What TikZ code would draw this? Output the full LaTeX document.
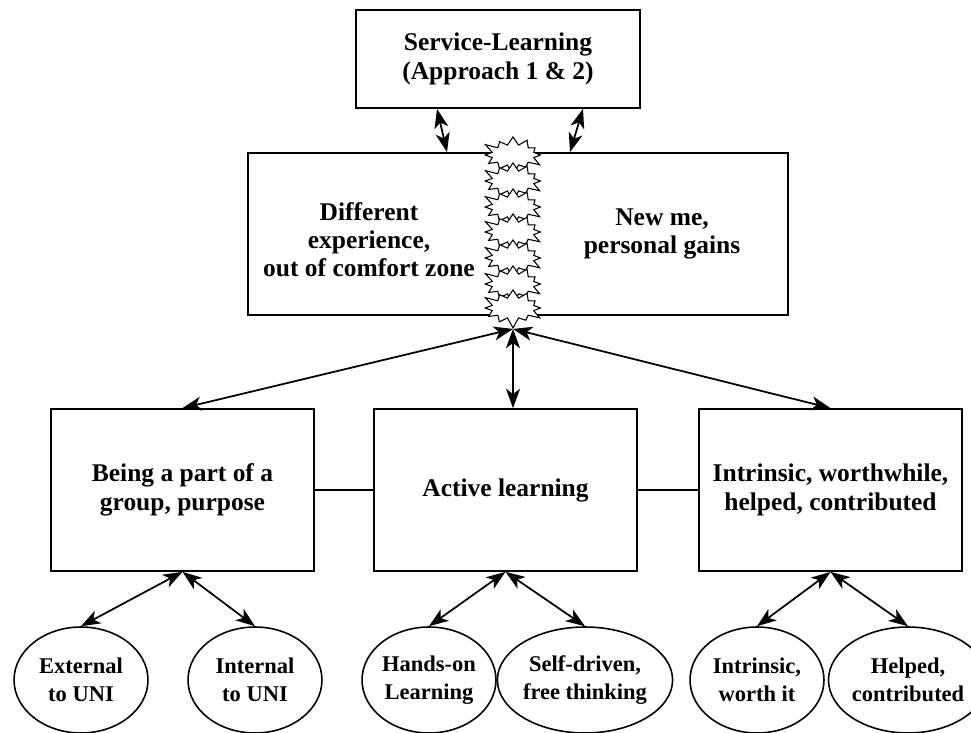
\documentclass[tikz,border=0pt]{standalone}
\usepackage{fontspec}
\setmainfont{Liberation Serif}
\usetikzlibrary{arrows.meta,shapes.geometric,shapes.symbols}

\begin{document}
\begin{tikzpicture}[x=0.02cm,y=-0.02cm]
\tikzstyle{block} = [rectangle, draw, line width=1pt, align=center,
inner sep=0pt, font=\fontsize{14.5}{16.5}\selectfont\bfseries]
\tikzstyle{topblock} = [block, minimum width=5.68cm, minimum height=1.96cm]
\tikzstyle{bigblock} = [block, minimum width=10.8cm, minimum height=3.24cm]
\tikzstyle{lowblock} = [block, minimum width=5.26cm, minimum height=3.24cm]
\tikzstyle{label} = [align=center, font=\fontsize{14.5}{16}\selectfont\bfseries]
\tikzstyle{oval} = [ellipse, draw, line width=0.9pt, minimum width=2.68cm,
minimum height=2.12cm, inner sep=0pt, align=center,
font=\fontsize{12.8}{15.8}\selectfont\bfseries]
\tikzstyle{burst} = [starburst, draw, fill=white, line width=0.6pt,
minimum width=1.3cm, minimum height=0.85cm, inner sep=0pt,
starburst points=12, starburst point height=0.22cm]
\tikzstyle{line} = [draw, line width=1pt, <->,
>={Stealth[length=11pt,width=8pt,inset=3pt]}]

\useasboundingbox (0,0) rectangle (971,733);

% top
\node [topblock] (service) at (498,59) {Service-Learning\\(Approach 1 \& 2)};
% middle
\node [bigblock] (outcome) at (518,234) {};
\node [label] (different) at (369,240) {Different\\experience,\\out of comfort zone};
\node [label] (newme) at (662,234) {New me,\\personal gains};
\foreach \i/\y in {1/155,2/181,3/207,4/232,5/258,6/284,7/308}
  \node [burst] (b\i) at (513,\y) {};
% row of boxes
\node [lowblock] (group) at (182.5,490) {Being a part of a\\group, purpose};
\node [lowblock] (active) at (505.5,490) {Active learning};
\node [lowblock] (worth) at (830.5,490) {Intrinsic, worthwhile,\\helped, contributed};
% ovals
\node [oval] (external) at (81,680) {External\\to UNI};
\node [oval] (internal) at (255,680) {Internal\\to UNI};
\node [oval] (handson) at (429,680) {Hands-on\\Learning};
\node [oval] (selfdriven) at (585,680) {Self-driven,\\free thinking};
\node [oval] (intrinsic) at (757,680) {Intrinsic,\\worth it};
\node [oval] (helped) at (908,680) {Helped,\\contributed};

\path [line] ([xshift=-1.22cm]service.south) -- ([xshift=-1.42cm]outcome.north);
\path [line] ([xshift=1.7cm]service.south) -- ([xshift=1.04cm]outcome.north);
\path [line] (b7.south) -- (group.north);
\path [line] (b7.south) -- (b7.south |- active.north);
\path [line] (b7.south) -- (worth.north);
\draw [line width=1pt] (group) -- (active);
\draw [line width=1pt] (active) -- (worth);
\path [line] (group.south) -- (external.north);
\path [line] (group.south) -- (internal.north);
\path [line] (active.south) -- (handson.north);
\path [line] (active.south) -- (selfdriven.north);
\path [line] (worth.south) -- (intrinsic.north);
\path [line] (worth.south) -- (helped.north);
\end{tikzpicture}
\end{document}
